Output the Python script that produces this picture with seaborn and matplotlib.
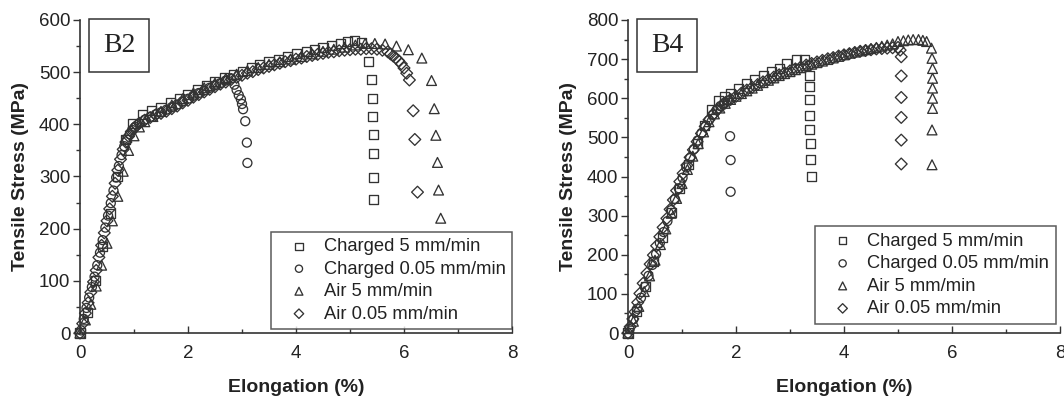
import matplotlib
matplotlib.use("Agg")
import matplotlib.pyplot as plt
import seaborn as sns
import pandas as pd

# ---------------- data : panel B2 ----------------
b2_c5_x = [0.0, 0.14, 0.28, 0.42, 0.56, 0.70, 0.84, 0.98, 1.16, 1.33, 1.50, 1.67, 1.84, 2.00, 2.17,
           2.34, 2.50, 2.67, 2.84, 3.01, 3.18, 3.33, 3.50, 3.67, 3.85, 4.01, 4.19, 4.35, 4.50, 4.66,
           4.82, 4.96, 5.08, 5.22, 5.35, 5.40, 5.42, 5.42, 5.43, 5.43, 5.43, 5.43]
b2_c5_y = [0, 40, 100, 165, 230, 300, 370, 402, 418, 426, 433, 441, 450, 458, 466,
           474, 482, 489, 495, 502, 508, 514, 520, 525, 530, 535, 539, 543, 547, 551,
           555, 558, 560, 557, 520, 485, 450, 415, 381, 344, 298, 256]

b2_c005_x = [0.02, 0.07, 0.12, 0.17, 0.22, 0.27, 0.32, 0.37, 0.42, 0.47, 0.52, 0.57, 0.62, 0.67,
             0.72, 0.77, 0.82, 0.87, 0.92, 0.97, 1.02, 1.10, 1.20, 1.30, 1.40, 1.50, 1.60, 1.70,
             1.80, 1.90, 2.00, 2.10, 2.20, 2.30, 2.40, 2.50, 2.60, 2.70, 2.80, 2.86, 2.90, 2.94,
             2.98, 3.00, 3.02, 3.06, 3.09, 3.10]
b2_c005_y = [5, 27, 48, 68, 88, 108, 130, 154, 178, 202, 225, 249, 273, 298,
             320, 341, 358, 371, 381, 389, 395, 402, 409, 414, 419, 423, 428, 433,
             438, 444, 449, 455, 460, 465, 470, 475, 479, 484, 488, 476, 466, 456,
             448, 439, 429, 406, 365, 326]

b2_a5_x = [0.0, 0.10, 0.20, 0.30, 0.40, 0.50, 0.60, 0.70, 0.80, 0.90, 1.00, 1.10, 1.20, 1.35,
           1.50, 1.70, 1.90, 2.10, 2.30, 2.50, 2.70, 2.90, 3.10, 3.30, 3.50, 3.70, 3.90, 4.10,
           4.30, 4.50, 4.70, 4.90, 5.10, 5.28, 5.46, 5.65, 5.86, 6.08, 6.33, 6.51, 6.56, 6.59,
           6.62, 6.64, 6.68]
b2_a5_y = [0, 25, 55, 90, 130, 172, 215, 262, 310, 350, 378, 395, 405, 415,
           425, 437, 449, 460, 470, 479, 488, 496, 503, 509, 515, 520, 525, 530,
           535, 540, 544, 548, 552, 555, 555, 554, 550, 543, 527, 484, 430, 379,
           327, 274, 220]

b2_a005_x = [0.0, 0.05, 0.10, 0.15, 0.20, 0.25, 0.30, 0.35, 0.40, 0.45, 0.50, 0.55, 0.60, 0.65,
             0.70, 0.75, 0.80, 0.85, 0.90, 0.95, 1.00, 1.05, 1.10, 1.20, 1.30, 1.40, 1.50, 1.60,
             1.70, 1.80, 1.90, 2.00, 2.10, 2.20, 2.30, 2.40, 2.50, 2.60, 2.70, 2.80, 2.90, 3.00,
             3.10, 3.20, 3.30, 3.40, 3.50, 3.60, 3.70, 3.80, 3.90, 4.00, 4.10, 4.20, 4.30, 4.40,
             4.50, 4.60, 4.70, 4.80, 4.90, 5.00, 5.10, 5.20, 5.30, 5.40, 5.50, 5.60, 5.70, 5.75,
             5.80, 5.85, 5.90, 5.95, 6.00, 6.05, 6.10, 6.17, 6.20, 6.25]
b2_a005_y = [0, 18, 38, 58, 78, 98, 120, 145, 168, 192, 215, 238, 262, 287,
             312, 333, 352, 366, 377, 386, 393, 398, 402, 408, 413, 418, 421, 425,
             430, 435, 441, 446, 452, 457, 462, 467, 472, 477, 481, 486, 490, 494,
             498, 501, 505, 508, 511, 514, 517, 520, 522, 525, 527, 530, 532, 534,
             536, 538, 539, 541, 542, 543, 544, 544, 545, 545, 544, 542, 539, 535,
             531, 527, 522, 516, 508, 498, 485, 426, 371, 270]

# ---------------- data : panel B4 ----------------
b4_c5_x = [0.0, 0.16, 0.32, 0.48, 0.64, 0.80, 0.96, 1.12, 1.28, 1.42, 1.55, 1.67, 1.78, 1.89,
           2.04, 2.20, 2.35, 2.51, 2.66, 2.81, 2.94, 3.12, 3.26, 3.36, 3.36, 3.37, 3.37, 3.37,
           3.38, 3.38, 3.39]
b4_c5_y = [0, 55, 118, 182, 245, 308, 370, 430, 485, 530, 570, 594, 604, 613,
           625, 638, 647, 657, 668, 676, 689, 700, 698, 659, 631, 596, 557, 521,
           485, 444, 400]

b4_c005_x = [0.03, 0.10, 0.17, 0.24, 0.31, 0.38, 0.45, 0.52, 0.59, 0.66, 0.73, 0.80, 0.87, 0.94,
             1.01, 1.08, 1.15, 1.22, 1.29, 1.36, 1.43, 1.50, 1.57, 1.64, 1.71, 1.78, 1.85, 1.89,
             1.90, 1.90]
b4_c005_y = [10, 35, 62, 90, 118, 146, 174, 202, 230, 258, 286, 314, 342, 370,
             397, 423, 447, 470, 492, 511, 528, 544, 558, 570, 580, 588, 594, 503,
             442, 361]

b4_a5_x = [0.0, 0.10, 0.20, 0.30, 0.40, 0.50, 0.60, 0.70, 0.80, 0.90, 1.00, 1.10, 1.20, 1.30,
           1.40, 1.50, 1.60, 1.70, 1.80, 1.90, 2.00, 2.10, 2.20, 2.30, 2.40, 2.50, 2.60, 2.70,
           2.80, 2.90, 3.00, 3.10, 3.20, 3.30, 3.40, 3.50, 3.60, 3.70, 3.80, 3.90, 4.00, 4.10,
           4.20, 4.30, 4.40, 4.50, 4.60, 4.70, 4.80, 4.90, 5.00, 5.10, 5.19, 5.28, 5.38, 5.46,
           5.53, 5.62, 5.63, 5.64, 5.64, 5.64, 5.64, 5.64, 5.63, 5.63]
b4_a5_y = [0, 30, 68, 106, 146, 186, 226, 266, 306, 344, 382, 418, 452, 484,
           514, 540, 560, 575, 587, 597, 605, 612, 619, 626, 633, 640, 646, 652,
           658, 663, 668, 673, 678, 683, 687, 691, 695, 699, 703, 707, 711, 715,
           718, 721, 724, 727, 730, 733, 736, 739, 745, 747, 749, 750, 750, 748,
           745, 728, 702, 676, 651, 626, 600, 574, 519, 430]

b4_a005_x = [0.0, 0.04, 0.09, 0.13, 0.18, 0.22, 0.28, 0.35, 0.41, 0.47, 0.53, 0.59, 0.65, 0.72,
             0.78, 0.84, 0.90, 0.96, 1.02, 1.09, 1.15, 1.21, 1.28, 1.36, 1.43, 1.50, 1.58, 1.65,
             1.73, 1.80, 1.90, 2.00, 2.10, 2.20, 2.30, 2.40, 2.50, 2.60, 2.70, 2.80, 2.90, 3.00,
             3.10, 3.20, 3.30, 3.40, 3.50, 3.60, 3.70, 3.80, 3.90, 4.00, 4.10, 4.20, 4.30, 4.40,
             4.50, 4.60, 4.70, 4.80, 4.90, 5.00, 5.04, 5.06, 5.06, 5.06, 5.06, 5.06, 5.06]
b4_a005_y = [0, 16, 36, 54, 78, 101, 127, 153, 176, 199, 223, 246, 270, 293,
             316, 340, 364, 387, 408, 429, 449, 468, 489, 510, 528, 545, 559, 570,
             580, 588, 597, 605, 613, 621, 628, 635, 642, 648, 654, 660, 665, 670,
             675, 680, 685, 689, 693, 697, 701, 704, 708, 711, 714, 717, 720, 722,
             724, 726, 727, 728, 729, 730, 723, 706, 657, 602, 551, 493, 432]

labels = ["Charged 5 mm/min", "Charged 0.05 mm/min", "Air 5 mm/min", "Air 0.05 mm/min"]
panel_names = ["B2", "B4"]
x_ticks = [0, 2, 4, 6, 8]
b2_yticks = [0, 100, 200, 300, 400, 500, 600]
b4_yticks = [0, 100, 200, 300, 400, 500, 600, 700, 800]

panels = {
    "B2": [(b2_c5_x, b2_c5_y), (b2_c005_x, b2_c005_y), (b2_a5_x, b2_a5_y), (b2_a005_x, b2_a005_y)],
    "B4": [(b4_c5_x, b4_c5_y), (b4_c005_x, b4_c005_y), (b4_a5_x, b4_a5_y), (b4_a005_x, b4_a005_y)],
}

# ---------------- style ----------------
sns.set_theme(style="ticks")
plt.rcParams["font.family"] = ["Liberation Sans", "DejaVu Sans"]

markers = ["s", "o", "^", "D"]
sizes = [42, 42, 50, 36]
edge = "#333333"

fig = plt.figure(figsize=(10.64, 3.98), dpi=100)
ax_positions = [[80 / 1064, 1 - 333 / 398, 432 / 1064, 313 / 398],
                [628 / 1064, 1 - 333 / 398, 432 / 1064, 313 / 398]]
yticks = {"B2": b2_yticks, "B4": b4_yticks}
legend_anchor = {"B2": (1.0, 0.013), "B4": (0.99, 0.03)}

for pos, name in zip(ax_positions, panel_names):
    ax = fig.add_axes(pos)
    for (xs, ys), lab, mk, sz in zip(panels[name], labels, markers, sizes):
        assert len(xs) == len(ys), (name, lab, len(xs), len(ys))
        df = pd.DataFrame({"Elongation": xs, "Stress": ys})
        sns.scatterplot(data=df, x="Elongation", y="Stress", ax=ax, marker=mk, s=sz,
                        facecolors="none", edgecolors=edge, linewidths=0.95, label=lab,
                        clip_on=False, zorder=3)
    for coll in ax.collections:
        coll.set_facecolor("none")
        coll.set_edgecolor(edge)
    ax.set_xlim(0, 8)
    yt = yticks[name]
    ax.set_ylim(yt[0], yt[-1])
    ax.set_xticks(x_ticks)
    ax.set_yticks(yt)
    ax.set_xticks([1, 3, 5, 7], minor=True)
    ax.set_yticks([v + 50 for v in yt[:-1]], minor=True)
    ax.tick_params(axis="x", direction="in", length=5, width=1, labelsize=13.5, pad=9,
                   color="#333", labelcolor="#222")
    ax.tick_params(axis="x", which="minor", direction="in", length=3, width=1, color="#333")
    ax.tick_params(axis="y", direction="out", length=5, width=1, labelsize=13.5, pad=2,
                   color="#333", labelcolor="#222")
    ax.tick_params(axis="y", which="minor", direction="out", length=3, width=1, color="#333")
    for s in ["left", "bottom"]:
        ax.spines[s].set_color("#333")
        ax.spines[s].set_linewidth(1.2)
    sns.despine(ax=ax, top=True, right=True)
    ax.set_xlabel("Elongation (%)", fontsize=14, fontweight="bold", labelpad=12, color="#222")
    ax.set_ylabel("Tensile Stress (MPa)", fontsize=14, fontweight="bold", labelpad=7, color="#222")

    ax.text(0.091, 0.918, name, transform=ax.transAxes, ha="center", va="center",
            fontsize=20, family=["Liberation Serif", "DejaVu Serif"], color="#222",
            bbox=dict(boxstyle="square,pad=0.5", fc="white", ec="#333", lw=1.1))

    leg = ax.legend(loc="lower right", bbox_to_anchor=legend_anchor[name],
                    frameon=True, fancybox=False, fontsize=13.2, labelspacing=0.3,
                    borderpad=0.35, handletextpad=0.2, handlelength=2.3, markerscale=0.8,
                    borderaxespad=0)
    leg.get_frame().set_edgecolor("#333")
    leg.get_frame().set_linewidth(1.1)
    for t in leg.get_texts():
        t.set_color("#222")
    for h in leg.legend_handles:
        h.set_facecolor("none")
        h.set_edgecolor(edge)

fig.savefig("out.png", dpi=100)
